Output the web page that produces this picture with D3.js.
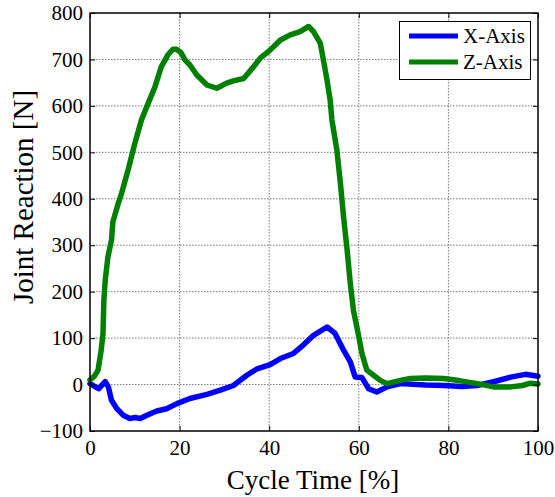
<!DOCTYPE html>
<html>
<head>
<meta charset="utf-8">
<script src="https://cdn.jsdelivr.net/npm/d3@7"></script>
<style>
  html, body { margin: 0; padding: 0; background: #fff; }
  svg { display: block; }
  text { font-family: "Times New Roman", "Liberation Serif", serif; fill: #000; }
</style>
</head>
<body>
<svg id="chart" width="555" height="497"></svg>
<script>
// Joint reaction force components over one gait cycle
const xAxisTime = [0, 1.9, 3.4, 4.1, 4.8, 6.0, 7.4, 8.9, 10.1, 11.2, 12.7, 14.9, 17.1, 19.4, 22.3, 26.1, 29.1, 32.0, 35.0, 37.3, 40.2, 42.5, 45.4, 47.6, 49.9, 52.9, 54.7, 56.6, 58.1, 59.2, 60.7, 62.2, 64.0, 66.3, 69.3, 75, 79, 83, 86.4, 90.1, 93.9, 97.2, 100];
const xAxisForce = [2, -9, 6, -5, -34, -52, -66, -73, -71, -73, -66, -57, -52, -41, -30, -21, -12, -2, 20, 34, 43, 56, 67, 85, 106, 124, 110, 74, 49, 16, 15, -9, -16, -5, 2, -1, -2, -4, -2, 6, 16, 22, 18];

const zAxisTime = [0, 1.0, 1.8, 2.5, 2.9, 3.1, 3.4, 4.0, 4.8, 5.1, 6.3, 7.0, 8.5, 10.0, 11.5, 13.0, 14.5, 15.9, 17.4, 18.5, 19.3, 20.3, 21.2, 22.3, 23.8, 26.1, 28.3, 30.5, 32.0, 34.3, 36.5, 38.0, 40.2, 42.5, 44.7, 46.9, 48.8, 49.9, 51.4, 52.1, 52.9, 53.6, 54.0, 55.1, 55.9, 56.6, 57.4, 58.1, 58.8, 60.0, 60.7, 61.8, 63.3, 64.8, 66.3, 69.3, 71.5, 75, 79, 82.7, 86.5, 90.1, 93.9, 96.5, 98.3, 100];
const zAxisForce = [10, 18, 31, 74, 110, 182, 225, 275, 311, 350, 390, 410, 462, 519, 570, 606, 641, 684, 710, 722, 722, 715, 699, 688, 667, 645, 638, 649, 654, 659, 684, 703, 720, 742, 753, 760, 771, 760, 735, 699, 656, 613, 570, 505, 433, 361, 289, 218, 160, 103, 67, 31, 20, 9, 2, 9, 13, 14, 13, 8, 2, -5, -5, -2, 3, 1];

const xTicks = [0, 20, 40, 60, 80, 100];
const yTicks = [-100, 0, 100, 200, 300, 400, 500, 600, 700, 800];
const seriesNames = ["X-Axis", "Z-Axis"];
const seriesColors = ["#0000ff", "#008000"];

const margin = { left: 90, top: 13, right: 538, bottom: 431 };
const svg = d3.select("#chart");

const x = d3.scaleLinear().domain([0, 100]).range([margin.left, margin.right]);
const y = d3.scaleLinear().domain([-100, 800]).range([margin.bottom, margin.top]);

// grid
const grid = svg.append("g").attr("class", "grid");
grid.selectAll("line.gx").data(xTicks.slice(1, -1)).join("line")
  .attr("x1", d => x(d)).attr("x2", d => x(d))
  .attr("y1", margin.top).attr("y2", margin.bottom)
  .attr("stroke", "#555").attr("stroke-width", 0.8).attr("stroke-dasharray", "1.5,1.5");
grid.selectAll("line.gy").data(yTicks.slice(1, -1)).join("line")
  .attr("x1", margin.left).attr("x2", margin.right)
  .attr("y1", d => y(d)).attr("y2", d => y(d))
  .attr("stroke", "#555").attr("stroke-width", 0.8).attr("stroke-dasharray", "1.5,1.5");

// series
const line = d3.line().x(d => x(d[0])).y(d => y(d[1]));
const series = [
  d3.zip(xAxisTime, xAxisForce),
  d3.zip(zAxisTime, zAxisForce)
];
svg.append("g").selectAll("path").data(series).join("path")
  .attr("d", line)
  .attr("fill", "none")
  .attr("stroke", (d, i) => seriesColors[i])
  .attr("stroke-width", 5.5)
  .attr("stroke-linejoin", "round")
  .attr("stroke-linecap", "round");

// axes (ticks pointing inward on all four sides)
const tickLen = 5;
const bottomAxis = d3.axisBottom(x).tickValues(xTicks).tickSize(-tickLen).tickPadding(9).tickFormat(d3.format("d"));
const leftAxis = d3.axisLeft(y).tickValues(yTicks).tickSize(-tickLen).tickPadding(7).tickFormat(d3.format("d"));
const topAxis = d3.axisTop(x).tickValues(xTicks).tickSize(-tickLen).tickFormat("");
const rightAxis = d3.axisRight(y).tickValues(yTicks).tickSize(-tickLen).tickFormat("");

function styleAxis(g) {
  g.select(".domain").remove();
  g.selectAll(".tick line").attr("stroke", "#000").attr("stroke-width", 1);
  g.selectAll(".tick text").attr("font-size", 21).attr("font-family", "'Times New Roman', 'Liberation Serif', serif");
}
svg.append("g").attr("transform", `translate(0,${margin.bottom})`).call(bottomAxis).call(styleAxis);
svg.append("g").attr("transform", `translate(${margin.left},0)`).call(leftAxis).call(styleAxis);
svg.append("g").attr("transform", `translate(0,${margin.top})`).call(topAxis).call(styleAxis);
svg.append("g").attr("transform", `translate(${margin.right},0)`).call(rightAxis).call(styleAxis);

// box
svg.append("rect")
  .attr("x", margin.left).attr("y", margin.top)
  .attr("width", margin.right - margin.left).attr("height", margin.bottom - margin.top)
  .attr("fill", "none").attr("stroke", "#000").attr("stroke-width", 1.5);

// axis titles
svg.append("text")
  .attr("x", 313).attr("y", 489)
  .attr("text-anchor", "middle").attr("font-size", 27)
  .text("Cycle Time [%]");
svg.append("text")
  .attr("transform", "translate(33,197) rotate(-90)")
  .attr("text-anchor", "middle").attr("font-size", 29)
  .text("Joint Reaction [N]");

// legend
const legend = svg.append("g");
legend.append("rect")
  .attr("x", 399.5).attr("y", 21.5).attr("width", 131).attr("height", 58)
  .attr("fill", "#fff").attr("stroke", "#000").attr("stroke-width", 1);
seriesNames.forEach((name, i) => {
  const ly = 36 + i * 26;
  legend.append("line")
    .attr("x1", 409).attr("x2", 458).attr("y1", ly).attr("y2", ly)
    .attr("stroke", seriesColors[i]).attr("stroke-width", 5);
  legend.append("text")
    .attr("x", 463).attr("y", ly + 7).attr("font-size", 21)
    .text(name);
});
</script>
</body>
</html>
